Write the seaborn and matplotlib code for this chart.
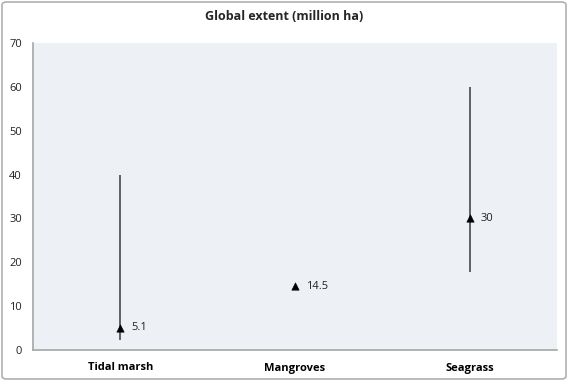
import numpy as np
import pandas as pd
import seaborn as sns
import matplotlib.pyplot as plt
from matplotlib.patches import FancyBboxPatch

categories = ['Tidal marsh', 'Mangroves', 'Seagrass']
best_estimate = [5.1, 14.5, 30]
low_estimate = [2.2, 14.5, 17.7]
high_estimate = [40, 14.5, 60]
point_labels = ['5.1', '14.5', '30']

df = pd.DataFrame({'habitat': categories, 'extent': best_estimate,
                   'low': low_estimate, 'high': high_estimate})

sns.set_style('white')
plt.rcParams['font.family'] = ['Open Sans', 'DejaVu Sans']

fig = plt.figure(figsize=(5.68, 3.81), dpi=100)
ax = fig.add_axes([33 / 568, 1 - 350 / 381, 524 / 568, 307 / 381])
ax.set_facecolor('#edf1f6')

# range lines
x = np.arange(len(categories))
ax.vlines(x, df['low'], df['high'], color='#3a3a3a', linewidth=1.1)

sns.scatterplot(data=df, x='habitat', y='extent', marker='^', color='black',
                s=28, ax=ax, zorder=3, edgecolor='black')

for xi, yi, lab in zip(x, df['extent'], point_labels):
    ax.annotate(lab, (xi, yi), xytext=(8, 0), textcoords='offset points',
                va='center', ha='left', fontsize=8, color='#222222')

ax.set_xlim(-0.5, 2.5)
ax.set_ylim(0, 70)
ax.set_yticks(range(0, 71, 10))
ax.set_xlabel('')
ax.set_ylabel('')
ax.tick_params(axis='y', labelsize=8, length=0, pad=8, colors='#222222')
ax.tick_params(axis='x', labelsize=8, length=0, pad=9, colors='black')
for lab in ax.get_xticklabels():
    lab.set_fontweight('bold')

for side in ['top', 'right']:
    ax.spines[side].set_visible(False)
for side in ['left', 'bottom']:
    ax.spines[side].set_color('#a6a6a6')
    ax.spines[side].set_linewidth(1.2)

fig.text(0.5, 1 - 17 / 381, 'Global extent (million ha)', ha='center', va='center',
         fontsize=9, fontweight='bold')

border = FancyBboxPatch((2 / 568, 2 / 381), 564 / 568, 377 / 381,
                        boxstyle='round,pad=0,rounding_size=0.008',
                        transform=fig.transFigure, facecolor='none',
                        edgecolor='#b0b0b0', linewidth=1.2)
fig.patches.append(border)

fig.savefig('out.png', dpi=100)
